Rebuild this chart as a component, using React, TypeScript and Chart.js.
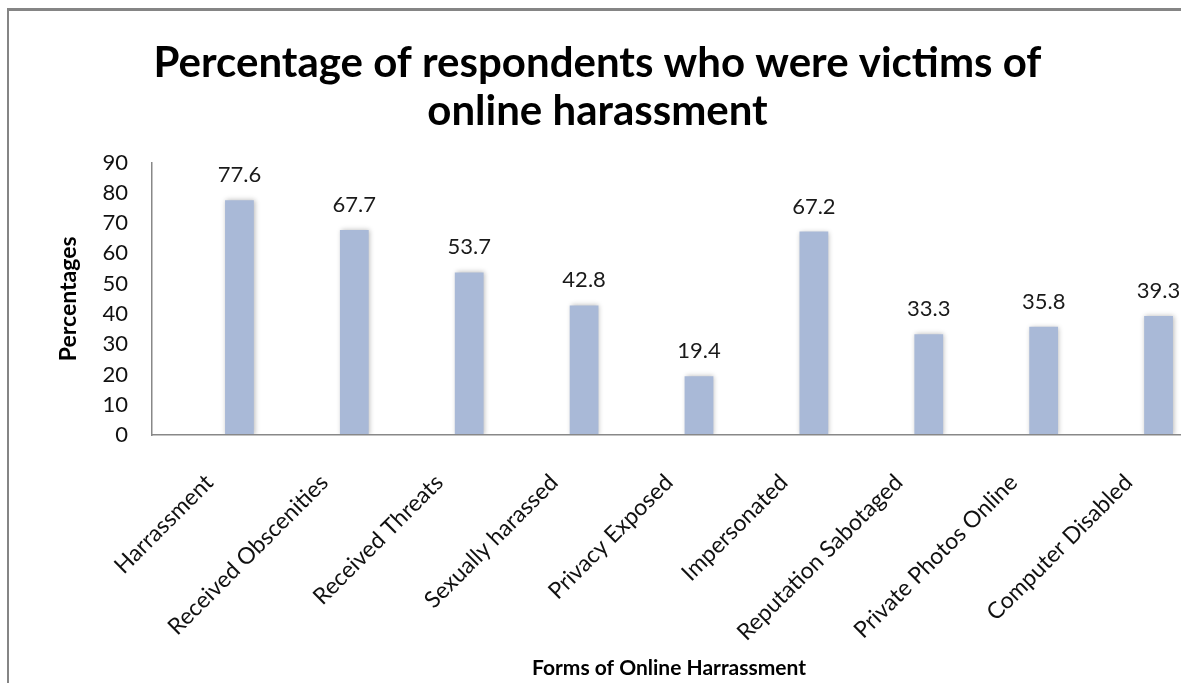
import React, { useEffect, useRef } from 'react';
import { Chart, registerables } from 'chart.js';

Chart.register(...registerables);

// ---- data ----
const categories: string[] = [
  'Harrassment',
  'Received Obscenities',
  'Received Threats',
  'Sexually harassed',
  'Privacy Exposed',
  'Impersonated',
  'Reputation Sabotaged',
  'Private Photos Online',
  'Computer Disabled',
];
const percentages: number[] = [77.6, 67.7, 53.7, 42.8, 19.4, 67.2, 33.3, 35.8, 39.3];
// two empty series occupy the first two slots of each category (as in the original spreadsheet chart)
const emptySeriesA: (number | null)[] = categories.map(() => null);
const emptySeriesB: (number | null)[] = categories.map(() => null);
const titleLines: string[] = ['Percentage of respondents who were victims of', 'online harassment'];
const yAxisTitle = 'Percentages';
const xAxisTitle = 'Forms of Online Harrassment';
const yMin = 0;
const yMax = 90;
const yStep = 10;

const FONT = "Lato, 'Open Sans', sans-serif";

const barShadow = {
  id: 'barShadow',
  beforeDatasetDraw(chart: any) {
    const ctx = chart.ctx;
    ctx.save();
    ctx.shadowColor = 'rgba(0,0,0,0.28)';
    ctx.shadowBlur = 5;
    ctx.shadowOffsetX = 1;
    ctx.shadowOffsetY = 0;
  },
  afterDatasetDraw(chart: any) {
    chart.ctx.restore();
  },
};

const valueLabels = {
  id: 'valueLabels',
  afterDatasetsDraw(chart: any) {
    const ctx = chart.ctx;
    const dsIndex = 2;
    const meta = chart.getDatasetMeta(dsIndex);
    const data = chart.data.datasets[dsIndex].data;
    ctx.save();
    ctx.font = `22px ${FONT}`;
    ctx.fillStyle = '#1a1a1a';
    ctx.textAlign = 'center';
    ctx.textBaseline = 'alphabetic';
    meta.data.forEach((bar: any, i: number) => {
      const v = data[i];
      if (v == null) return;
      ctx.fillText(Number(v).toFixed(1), bar.x, bar.y - 18);
    });
    ctx.restore();
  },
};

export default function App() {
  const canvasRef = useRef<HTMLCanvasElement | null>(null);

  useEffect(() => {
    const canvas = canvasRef.current;
    if (!canvas) return;
    const chart = new Chart(canvas, {
      type: 'bar',
      data: {
        labels: categories,
        datasets: [
          { label: 'A', data: emptySeriesA, backgroundColor: '#A9B9D7' },
          { label: 'B', data: emptySeriesB, backgroundColor: '#A9B9D7' },
          {
            label: 'Percentage',
            data: percentages,
            backgroundColor: '#A9B9D7',
            borderWidth: 0,
          },
        ],
      },
      options: {
        animation: false,
        responsive: true,
        maintainAspectRatio: false,
        datasets: {
          bar: {
            categoryPercentage: 0.783,
            barPercentage: 0.96,
          },
        },
        layout: { padding: 0 },
        plugins: {
          legend: { display: false },
          tooltip: { enabled: false },
          title: {
            display: true,
            text: titleLines,
            color: '#000',
            font: { family: FONT, size: 42, weight: 'bold', lineHeight: 1.15 },
            padding: { top: 28, bottom: 27 },
          },
        },
        scales: {
          x: {
            offset: true,
            grid: { display: false, drawTicks: false },
            border: { display: true, color: '#888888', width: 1.5, z: 1 },
            ticks: {
              autoSkip: false,
              minRotation: 45,
              maxRotation: 45,
              padding: 34,
              color: '#111',
              font: { family: FONT, size: 23 },
            },
            title: {
              display: true,
              text: xAxisTitle,
              color: '#000',
              font: { family: FONT, size: 21, weight: 'bold' },
              padding: { top: 0, bottom: 2 },
            },
            afterFit(scale: any) {
              scale.height = 248;
            },
          },
          y: {
            min: yMin,
            max: yMax,
            grid: { display: false, drawTicks: false },
            border: { display: true, color: '#888888', width: 1.5, z: 1 },
            ticks: {
              stepSize: yStep,
              padding: 24,
              color: '#111',
              font: { family: FONT, size: 22 },
            },
            title: {
              display: true,
              text: yAxisTitle,
              color: '#000',
              font: { family: FONT, size: 23, weight: 'bold' },
              padding: { top: 46, bottom: 0 },
            },
            afterFit(scale: any) {
              scale.width = 143;
            },
          },
        },
      },
      plugins: [barShadow, valueLabels],
    } as any);
    return () => chart.destroy();
  }, []);

  return (
    <div
      style={{
        position: 'fixed',
        left: 0,
        top: 0,
        width: 1181,
        height: 683,
        overflow: 'hidden',
        background: '#fff',
      }}
    >
      <div
        style={{
          position: 'absolute',
          left: 7,
          top: 8,
          width: 1190,
          height: 675,
          borderTop: '3px solid #858585',
          borderLeft: '2px solid #858585',
          background: '#fff',
        }}
      >
        <div style={{ position: 'absolute', left: 0, top: 0, width: 1177, height: 672 }}>
          <canvas ref={canvasRef} />
        </div>
      </div>
    </div>
  );
}
